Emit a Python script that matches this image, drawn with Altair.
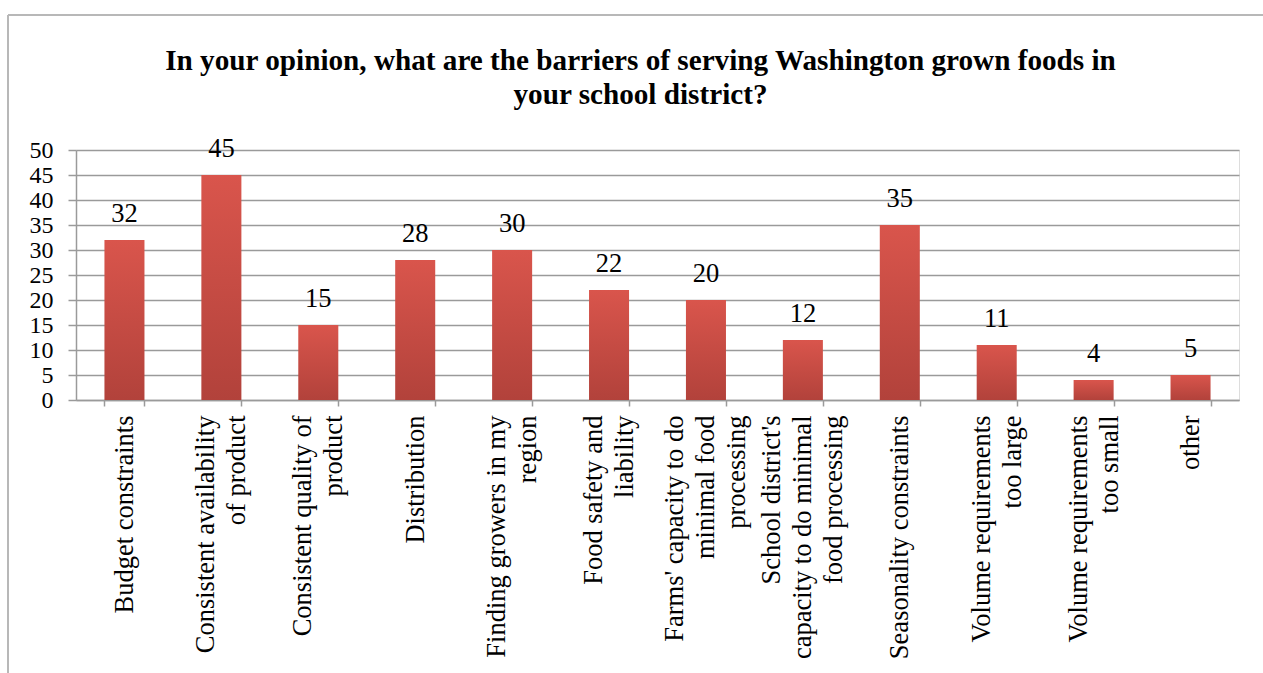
import altair as alt
import pandas as pd

title_lines = [
    "In your opinion, what are the barriers of serving Washington grown foods in",
    "your school district?",
]

categories = [
    "Budget constraints",
    "Consistent availability|of product",
    "Consistent quality of|product",
    "Distribution",
    "Finding growers in my|region",
    "Food safety and|liability",
    "Farms' capacity to do|minimal food|processing",
    "School district's|capacity to do minimal|food processing",
    "Seasonality constraints",
    "Volume requirements|too large",
    "Volume requirements|too small",
    "other",
]
values = [32, 45, 15, 28, 30, 22, 20, 12, 35, 11, 4, 5]
y_ticks = [0, 5, 10, 15, 20, 25, 30, 35, 40, 45, 50]

df = pd.DataFrame({"category": categories, "value": values})

FONT = "Liberation Serif"
PLOT_W, PLOT_H = 1163, 250
PAD_L, PAD_T = 76, 150
GRID = "#9a9a9a"
LINE_H = 31
FS = 26.5

nlines = "length(split(datum.label, '|'))"

x_enc = alt.X(
    "category:N",
    sort=None,
    scale=alt.Scale(paddingInner=0.587, paddingOuter=0.2935),
    axis=alt.Axis(
        title=None,
        labelExpr="split(datum.label, '|')",
        labelAngle=-90,
        labelAlign="right",
        labelBaseline="middle",
        labelFont=FONT,
        labelFontSize=FS,
        labelLineHeight=LINE_H,
        labelColor="#000000",
        labelPadding=9,
        labelLimit=400,
        labelOverlap=False,
        labelOffset={
            "condition": [
                {"test": f"{nlines} == 2", "value": -LINE_H / 2},
                {"test": f"{nlines} == 3", "value": -LINE_H},
            ],
            "value": 0,
        },
        tickBand="extent",
        tickSize=6,
        tickColor=GRID,
        tickWidth=1.5,
        domainColor=GRID,
        domainWidth=1.5,
        grid=False,
    ),
)
y_enc = alt.Y(
    "value:Q",
    scale=alt.Scale(domain=[0, 50], nice=False),
    axis=alt.Axis(
        title=None,
        values=y_ticks,
        labelOverlap=False,
        labelFont=FONT,
        labelFontSize=24,
        labelColor="#000000",
        labelPadding=15,
        tickSize=8,
        tickColor=GRID,
        tickWidth=1.5,
        domainColor=GRID,
        domainWidth=1.5,
        gridColor=GRID,
        gridWidth=1.5,
    ),
)

bars = alt.Chart(df).mark_bar(
    color=alt.Gradient(
        gradient="linear",
        stops=[
            alt.GradientStop(color="#d9554c", offset=0),
            alt.GradientStop(color="#b2423b", offset=1),
        ],
        x1=0, x2=0, y1=0, y2=1,
    )
).encode(x=x_enc, y=y_enc)

text = alt.Chart(df).mark_text(
    font=FONT, fontSize=FS, color="#000000", baseline="alphabetic", dy=-18
).encode(x=x_enc, y=y_enc, text="value:Q")

frame_top = alt.Chart(df).mark_rule(color="#b8b8b8", strokeWidth=1.5).encode(
    x=alt.value(8 - PAD_L), x2=alt.value(1263 - PAD_L), y=alt.value(15 - PAD_T)
)
frame_left = alt.Chart(df).mark_rule(color="#b8b8b8", strokeWidth=1.5).encode(
    x=alt.value(8 - PAD_L), y=alt.value(15 - PAD_T), y2=alt.value(673 - PAD_T)
)

chart = (
    alt.layer(frame_top, frame_left, bars, text)
    .properties(
        width=PLOT_W,
        height=PLOT_H,
        autosize=alt.AutoSizeParams(type="none"),
        padding={"left": PAD_L, "top": PAD_T, "right": 1263 - PAD_L - PLOT_W, "bottom": 673 - PAD_T - PLOT_H},
        title=alt.TitleParams(
            text=title_lines,
            font=FONT,
            fontSize=29.2,
            fontWeight="bold",
            color="#000000",
            anchor="middle",
            frame="group",
            baseline="top",
            offset=0,
            dy=96,
            lineHeight=34,
            dx=-17,
        ),
    )
    .configure_view(stroke=None)
    .configure(background="#ffffff")
)

chart.save("out.html", embed_options={"renderer": "svg", "actions": False})
